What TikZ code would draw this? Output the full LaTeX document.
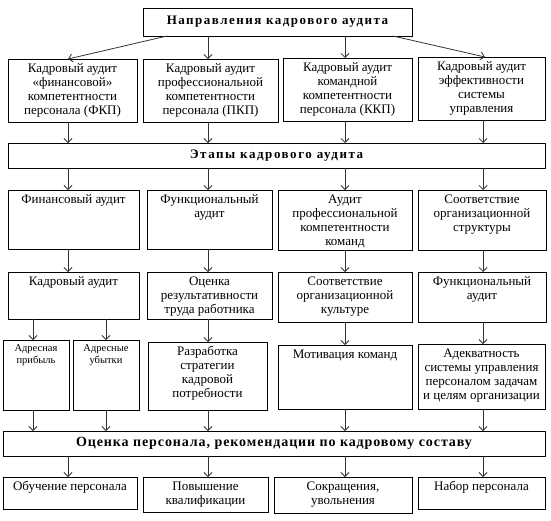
\documentclass[tikz,border=0pt]{standalone}
\usepackage{fontspec}
\setmainfont{Liberation Serif}
\usetikzlibrary{arrows.meta,calc}
\tikzset{
  boxst/.style={draw=black, line width=0.8pt, inner sep=0pt, outer sep=0pt},
  arr/.style={draw=black!80, line width=0.8pt, -{Straight Barb[length=4pt,width=8pt,line width=0.8pt]}},
  headst/.style={boxst, anchor=north west, font=\fontsize{13}{14}\selectfont\bfseries},
}
\newcommand\mybox[7][\fontsize{13}{14}\selectfont]{%
  \node[boxst, anchor=north west] (#2) at (#3,#4)
   {\parbox[c][\dimexpr#6pt-#4pt\relax][t]{\dimexpr#5pt-#3pt\relax}{#1\centering\vspace*{3.5pt}\strut#7\strut\par}};}
\newcommand\myhead[7][]{%
  \node[headst, minimum width={(#5-#3)*1pt}, minimum height={(#6-#4)*1pt}] (#2) at (#3,#4) {#1#7};}
\begin{document}
\begin{tikzpicture}[x=1pt,y=-1pt]
\useasboundingbox (0,0) rectangle (551,520);
% columns for connectors
\coordinate (c1) at (68,0);
\coordinate (c2) at (208,0);
\coordinate (c3) at (345,0);
\coordinate (c4) at (483,0);
\coordinate (ca) at (33,0);
\coordinate (cb) at (106,0);
\coordinate (ta1) at (167,36);
\coordinate (ta4) at (393,36);
\coordinate (te1) at (68,59);
\coordinate (te4) at (485,57);
% boxes
\myhead[\addfontfeatures{LetterSpace=11.5}]{top}{143}{8}{412}{36}{Направления кадрового аудита}
\mybox{r1a}{8}{59}{137}{122}{Кадровый аудит\\«финансовой»\\компетентности\\персонала (ФКП)}
\mybox{r1b}{143}{59}{278}{122}{Кадровый аудит\\профессиональной\\компетентности\\персонала (ПКП)}
\mybox{r1c}{283}{58}{412}{121}{Кадровый аудит\\командной\\компетентности\\персонала (ККП)}
\mybox{r1d}{418}{57}{545}{120}{Кадровый аудит\\эффективности\\системы\\управления}
\myhead[\addfontfeatures{LetterSpace=12}]{stage}{8}{143}{545}{168}{Этапы кадрового аудита}
\mybox{r2a}{8}{190}{139}{249}{Финансовый аудит}
\mybox{r2b}{147}{190}{272}{249}{Функциональный\\аудит}
\mybox{r2c}{278}{190}{412}{250}{Аудит\\профессиональной\\компетентности\\команд}
\mybox{r2d}{418}{190}{546}{250}{Соответствие\\организационной\\структуры}
\mybox{r3a}{8}{272}{139}{319}{Кадровый аудит}
\mybox{r3b}{147}{272}{272}{319}{Оценка\\результативности\\труда работника}
\mybox{r3c}{278}{272}{412}{322}{Соответствие\\организационной\\культуре}
\mybox{r3d}{418}{272}{546}{322}{Функциональный\\аудит}
\mybox[\fontsize{10.5}{12}\selectfont]{r4a}{3}{340}{69}{410}{Адресная\\прибыль}
\mybox[\fontsize{10.5}{12}\selectfont]{r4b}{73}{340}{139}{410}{Адресные\\убытки}
\mybox{r4c}{148}{342}{267}{410}{Разработка\\стратегии\\кадровой\\потребности}
\mybox{r4d}{278}{345}{412}{409}{Мотивация команд}
\mybox{r4e}{418}{344}{545}{409}{Адекватность\\системы управления\\персоналом задачам\\и целям организации}
\myhead[\fontsize{14}{16}\selectfont\addfontfeatures{LetterSpace=6.5}]{final}{3}{431}{545}{456}{Оценка персонала, рекомендации по кадровому составу}
\mybox{b1}{3}{477}{137}{509}{Обучение персонала}
\mybox{b2}{143}{477}{268}{512}{Повышение\\квалификации}
\mybox{b3}{274}{477}{412}{513}{Сокращения,\\увольнения}
\mybox{b4}{418}{477}{545}{509}{Набор персонала}
% connectors
\draw[arr] (ta1) -- (te1);
\draw[arr] (top.south -| c2) -- (r1b.north -| c2);
\draw[arr] (top.south -| c3) -- (r1c.north -| c3);
\draw[arr] (ta4) -- (te4);
\draw[arr] (r1a.south -| c1) -- (stage.north -| c1);
\draw[arr] (r1b.south -| c2) -- (stage.north -| c2);
\draw[arr] (r1c.south -| c3) -- (stage.north -| c3);
\draw[arr] (r1d.south -| c4) -- (stage.north -| c4);
\draw[arr] (stage.south -| c1) -- (r2a.north -| c1);
\draw[arr] (stage.south -| c2) -- (r2b.north -| c2);
\draw[arr] (stage.south -| c3) -- (r2c.north -| c3);
\draw[arr] (stage.south -| c4) -- (r2d.north -| c4);
\draw[arr] (r2a.south -| c1) -- (r3a.north -| c1);
\draw[arr] (r2b.south -| c2) -- (r3b.north -| c2);
\draw[arr] (r2c.south -| c3) -- (r3c.north -| c3);
\draw[arr] (r2d.south -| c4) -- (r3d.north -| c4);
\draw[arr] (r3a.south -| ca) -- (r4a.north -| ca);
\draw[arr] (r3a.south -| cb) -- (r4b.north -| cb);
\draw[arr] (r3b.south -| c2) -- (r4c.north -| c2);
\draw[arr] (r3c.south -| c3) -- (r4d.north -| c3);
\draw[arr] (r3d.south -| c4) -- (r4e.north -| c4);
\draw[arr] (r4a.south -| ca) -- (final.north -| ca);
\draw[arr] (r4b.south -| cb) -- (final.north -| cb);
\draw[arr] (r4c.south -| c2) -- (final.north -| c2);
\draw[arr] (r4d.south -| c3) -- (final.north -| c3);
\draw[arr] (r4e.south -| c4) -- (final.north -| c4);
\draw[arr] (final.south -| c1) -- (b1.north -| c1);
\draw[arr] (final.south -| c2) -- (b2.north -| c2);
\draw[arr] (final.south -| c3) -- (b3.north -| c3);
\draw[arr] (final.south -| c4) -- (b4.north -| c4);
\end{tikzpicture}
\end{document}
